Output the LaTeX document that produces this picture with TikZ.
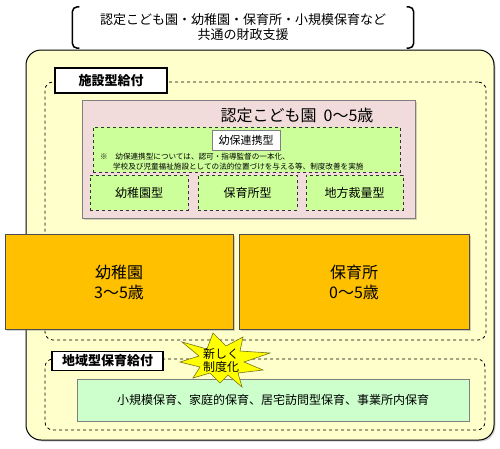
\documentclass[tikz,border=0pt]{standalone}
\usepackage{fontspec}
\setmainfont{Noto Sans CJK JP}
\usepackage{tikz}
\usetikzlibrary{calc,shadows}
\definecolor{kcream}{HTML}{FFFFCC}
\definecolor{kpink}{HTML}{F2DCDB}
\definecolor{klime}{HTML}{CCFF99}
\definecolor{kmint}{HTML}{CCFFCC}
\definecolor{korange}{HTML}{FFC000}
\definecolor{kedge}{HTML}{7F7F7F}
\definecolor{kstar}{HTML}{FFFF00}
\newcommand{\fs}[1]{\fontsize{#1}{#1}\selectfont}

\begin{document}
\begin{tikzpicture}[x=1pt,y=-1pt,
  softshadow/.style={drop shadow={opacity=0.35,shadow xshift=1.5pt,shadow yshift=-1.5pt}},
  group/.style={draw, dashed, line width=0.8pt, rounded corners=8pt},
  tag/.style={draw, fill=white, line width=1.6pt, font=\fs{13}\bfseries},
  kind/.style={draw=black!80, dashed, fill=klime, font=\fs{12}},
  facility/.style={draw=black!70, fill=korange, softshadow, align=center, font=\fs{16}, text depth=0pt}]
 \useasboundingbox (0,0) rectangle (500,448);
 % top caption between round brackets
 \node[minimum width=341pt, minimum height=41pt, align=center, font=\fs{13}] (finance) at (243,27.5)
   {認定こども園・幼稚園・保育所・小規模保育など\\[2pt]共通の財政支援};
 \draw[line width=1.5pt, rounded corners=5pt] ($(finance.north west)+(7,0)$) -- (finance.north west) -- (finance.south west) -- ($(finance.south west)+(7,0)$);
 \draw[line width=1.5pt, rounded corners=5pt] ($(finance.north east)+(-7,0)$) -- (finance.north east) -- (finance.south east) -- ($(finance.south east)+(-7,0)$);
 % outer frame
 \node[draw, line width=1pt, fill=kcream, rounded corners=15pt, minimum width=468pt, minimum height=390pt, softshadow] (frame) at (260,245) {};
 % facility benefits
 \node[group, minimum width=441pt, minimum height=258pt] (facgrp) at (265.5,211) {};
 \node[tag, minimum width=112pt, minimum height=25pt] (factag) at (111,80.5) {施設型給付};
 \node[draw=kedge, fill=kpink, minimum width=333pt, minimum height=118pt, softshadow] (nintei) at (248.5,159) {};
 \node[font=\fs{16}] (ninteititle) at (297,115) {認定こども園\hspace{0.45em}0～5歳};
 \node[kind, minimum width=307pt, minimum height=45pt] (renkei) at (246.5,149.5) {};
 \node[draw=kedge, fill=white, minimum width=68pt, minimum height=20pt, font=\fs{11}] (renkeitag) at (246,140) {幼保連携型};
 \node[anchor=west, align=left, inner sep=0pt, font=\fs{7.6}] (renkeinote) at (100,161.5)
   {※\hspace{1em}幼保連携型については、認可・指導監督の一本化、\\[2pt]\hspace{1.7em}学校及び児童福祉施設としての法的位置づけを与える等、制度改善を実施};
 \node[kind, minimum width=98pt, minimum height=35pt] (youtype) at (139,192.5) {幼稚園型};
 \node[kind, minimum width=99pt, minimum height=35pt] (hoiktype) at (247.5,192.5) {保育所型};
 \node[kind, minimum width=97pt, minimum height=35pt] (localtype) at (354.5,192.5) {地方裁量型};
 \node[facility, minimum width=228pt, minimum height=95pt] (kinder) at (119,281.5) {幼稚園\\[4pt]3～5歳};
 \node[facility, minimum width=230pt, minimum height=95pt] (nursery) at (354,281.5) {保育所\\[4pt]0～5歳};
 % community benefits
 \node[group, minimum width=440pt, minimum height=71pt] (localgrp) at (265,394.5) {};
 \node[tag, minimum width=111pt, minimum height=18pt] (localtag) at (107.5,361) {地域型保育給付};
 \node[draw=kedge, fill=kmint, minimum width=392pt, minimum height=42pt, font=\fs{12}] (smallcare) at (273,400)
   {小規模保育、家庭的保育、居宅訪問型保育、事業所内保育};
 % burst
 \coordinate (newburst) at (221,360);
 \begin{scope}[shift={(newburst)}]
  \draw[fill=kstar, draw=olive!80!black, line width=0.6pt] (-39,-18) -- (-14,-11) -- (-8,-27) -- (5,-14) -- (22,-23) -- (19,-9)
   -- (49,-7) -- (23,2) -- (42,10) -- (17,13) -- (21,27) -- (7,15) -- (-1,23) -- (-11,13) -- (-28,18) -- (-21,7)
   -- (-41,2) -- (-22,-4) -- cycle;
 \end{scope}
 \node[align=center, font=\fs{12}] (newtext) at (newburst) {新しく\\[1pt]制度化};
\end{tikzpicture}
\end{document}
